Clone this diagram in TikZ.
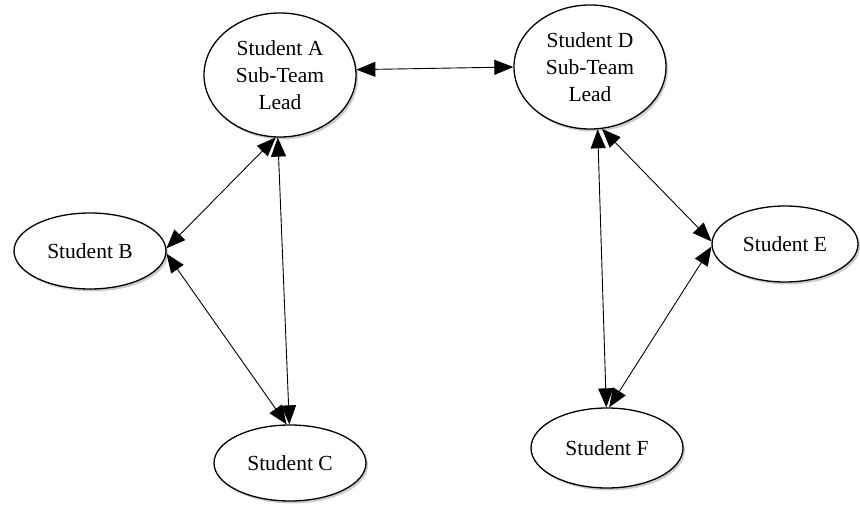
\documentclass[tikz,border=0pt]{standalone}
\usepackage{fontspec}
\setmainfont{Liberation Serif}
\usetikzlibrary{shapes.geometric,arrows.meta,shadows}

\begin{document}
\begin{tikzpicture}[x=1pt,y=-1pt,
    student/.style={ellipse,draw,line width=1.3pt,fill=white,inner sep=0pt,
      minimum width=152pt,minimum height=76pt,align=center,
      font=\fontsize{21.5}{27}\selectfont,
      drop shadow={shadow xshift=2pt,shadow yshift=-2.5pt,opacity=0.4}},
    lead/.style={student,minimum height=124pt},
    link/.style={{Triangle[length=19pt,width=15pt]}-{Triangle[length=19pt,width=15pt]},line width=0.9pt}]
                \useasboundingbox (0,0) rectangle (860,505);

                \node[lead] (stA) at (280,75) {Student A\\Sub-Team\\Lead};
                \node[lead] (stD) at (590,67) {Student D\\Sub-Team\\Lead};
                \node[student] (stB) at (90,251) {Student B};
                \node[student] (stC) at (290,463) {Student C};
                \node[student,minimum width=146pt] (stE) at (785,244) {Student E};
                \node[student,minimum height=80pt] (stF) at (607,448) {Student F};

                \draw[link] (stA.4) -- (stD.180);
                \draw[link] (stA.-94) -- (stB.2);
                \draw[link] (stA.-92) -- (stC.91);
                \draw[link] (stB.-2) -- (stC.95);
                \draw[link] (stD.-83) -- (stF.91);
                \draw[link] (stD.-79) -- (stE.178);
                \draw[link] (stE.182) -- (stF.87);
            \end{tikzpicture}
\end{document}
